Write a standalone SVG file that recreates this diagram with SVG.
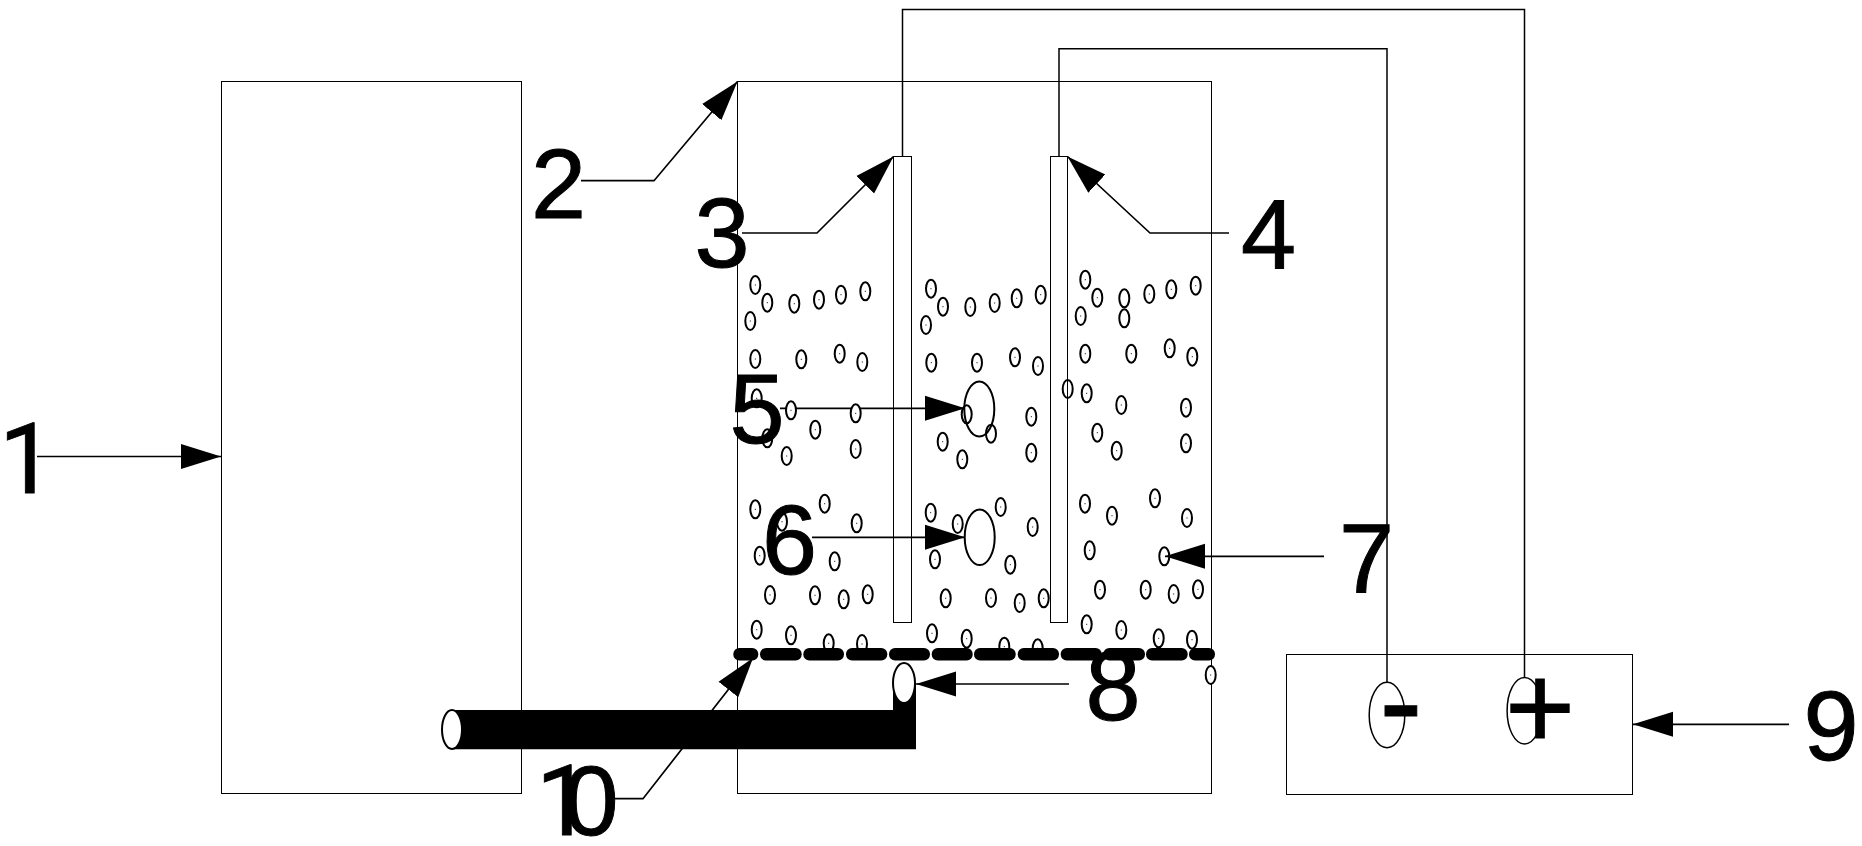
<svg xmlns="http://www.w3.org/2000/svg" xmlns:xlink="http://www.w3.org/1999/xlink" width="1862" height="846" viewBox="0 0 1862 846">
<style>
.ln{fill:none;stroke:#000;stroke-width:1.5}
.thick{fill:none;stroke:#000;stroke-width:2}
.shp{fill:none;stroke:#000;stroke-width:1.5;shape-rendering:crispEdges}
.wt{fill:#fff;stroke:#000;stroke-width:2}
.lead{fill:none;stroke:#000;stroke-width:1.7;marker-end:url(#head)}
.lbl{font-family:"Liberation Sans",Arial,sans-serif;font-size:99px;fill:#000;stroke:#000;stroke-width:1;text-anchor:middle}
.one{font-family:Roboto,"Liberation Sans",sans-serif;font-size:99px;fill:#000;stroke:#000;stroke-width:.8}
.sign{font-family:"Liberation Sans",Arial,sans-serif;fill:#000;stroke:#000;stroke-width:1;text-anchor:middle}
.b0{fill:none;stroke:#000;stroke-width:2}
.b1{fill:#fff;stroke:#000;stroke-width:2}
.seg{fill:#000}
</style>
<defs>
<marker id="head" markerUnits="userSpaceOnUse" markerWidth="42" markerHeight="28" refX="40" refY="13" orient="auto">
<path d="M0 0.5L40 13L0 25.5Z" fill="#000"/>
</marker>
<g id="bub"><ellipse rx="5" ry="9" class="b1"/><rect x="-0.5" y="-0.5" width="1" height="1" fill="#000"/></g>
<g id="bubo"><ellipse rx="5" ry="9" class="b0"/></g>
</defs>
<rect width="1862" height="846" fill="#fff"/>
<g id="connectors">
<path class="lead" d="M37 456.5H221"/>
<path class="lead" d="M581 180.7H654L737.5 81.5"/>
<path class="lead" d="M742 233H817L893.5 156.5"/>
<path class="lead" d="M1229 233H1150L1067.5 156.5"/>
<path class="lead" d="M780 408.3H965"/>
<path class="lead" d="M812 537.3H965"/>
<path class="lead" d="M1324 556.3H1165"/>
<path class="lead" d="M1069 684H916"/>
<path class="lead" d="M1789 724.3H1633"/>
<path class="lead" d="M615 798.7H643L753 658"/>
<path class="ln" d="M902.5 156V9.5H1524.5V677.5"/>
<path class="ln" d="M1059 156V48.7H1387V682"/>
</g>
<g id="node-1"><rect class="shp" x="221.5" y="81.5" width="300" height="712"/><text class="one" x="-1" y="493">1</text></g>
<g id="node-2"><rect class="shp" x="737.5" y="81.5" width="474" height="712"/><text class="lbl" x="558.5" y="218">2</text></g>
<g id="node-3"><rect class="shp" x="893.5" y="156.5" width="18" height="466"/><text class="lbl" x="722" y="267">3</text></g>
<g id="node-4"><rect class="shp" x="1050.5" y="156.5" width="17" height="466"/><text class="lbl" x="1268.5" y="268">4</text></g>
<g id="bubbles">
<use xlink:href="#bub" x="755.3" y="285"/><use xlink:href="#bub" x="767.3" y="302.7"/><use xlink:href="#bub" x="750.3" y="321"/><use xlink:href="#bub" x="794.3" y="303.7"/><use xlink:href="#bub" x="819" y="299.7"/><use xlink:href="#bub" x="841" y="294.7"/><use xlink:href="#bub" x="865.3" y="291.3"/>
<use xlink:href="#bub" x="931" y="288.7"/><use xlink:href="#bub" x="943" y="306.7"/><use xlink:href="#bub" x="926" y="325"/><use xlink:href="#bub" x="970.3" y="307"/><use xlink:href="#bub" x="994.7" y="303"/><use xlink:href="#bub" x="1016.7" y="298.3"/><use xlink:href="#bub" x="1040.7" y="294.7"/>
<use xlink:href="#bub" x="1085.3" y="279.7"/><use xlink:href="#bub" x="1097.3" y="297.7"/><use xlink:href="#bub" x="1080.7" y="316"/><use xlink:href="#bubo" x="1124.3" y="298.3"/><use xlink:href="#bubo" x="1124.3" y="318.3"/><use xlink:href="#bub" x="1149.3" y="294"/><use xlink:href="#bub" x="1171.3" y="289.3"/><use xlink:href="#bub" x="1195.7" y="285.7"/>
<use xlink:href="#bub" x="755.3" y="359"/><use xlink:href="#bub" x="801.3" y="359.3"/><use xlink:href="#bub" x="839.7" y="353.7"/><use xlink:href="#bub" x="862.3" y="362"/><use xlink:href="#bub" x="931.3" y="362.7"/><use xlink:href="#bub" x="977" y="362.7"/><use xlink:href="#bub" x="1015" y="357.3"/><use xlink:href="#bub" x="1038" y="366"/><use xlink:href="#bub" x="1085.3" y="353.7"/><use xlink:href="#bub" x="1131.3" y="353.7"/><use xlink:href="#bub" x="1169.7" y="348.3"/><use xlink:href="#bub" x="1192.3" y="356.7"/>
<use xlink:href="#bubo" x="1067.7" y="389"/><use xlink:href="#bub" x="1086.7" y="393.3"/><use xlink:href="#bub" x="756.7" y="398.3"/><use xlink:href="#bub" x="791" y="410.3"/><use xlink:href="#bub" x="855.7" y="413.3"/><use xlink:href="#bub" x="815.3" y="429.7"/><use xlink:href="#bub" x="767.3" y="438.3"/><use xlink:href="#bub" x="786.7" y="456"/><use xlink:href="#bub" x="855.7" y="449"/><use xlink:href="#bubo" x="966.7" y="414.3"/><use xlink:href="#bubo" x="991" y="433.7"/><use xlink:href="#bub" x="1031.3" y="416.7"/><use xlink:href="#bub" x="942.7" y="441.7"/><use xlink:href="#bub" x="962.3" y="459.3"/><use xlink:href="#bub" x="1031.3" y="452.7"/><use xlink:href="#bub" x="1121.3" y="405"/><use xlink:href="#bub" x="1186" y="407.7"/><use xlink:href="#bub" x="1097.3" y="432.7"/><use xlink:href="#bub" x="1116.7" y="450.7"/><use xlink:href="#bub" x="1186" y="443.3"/>
<use xlink:href="#bub" x="755.3" y="509.3"/><use xlink:href="#bub" x="824.7" y="503.7"/><use xlink:href="#bub" x="782" y="521.7"/><use xlink:href="#bub" x="856.7" y="523.3"/><use xlink:href="#bub" x="759.7" y="555.7"/><use xlink:href="#bub" x="834.7" y="561.3"/><use xlink:href="#bub" x="770" y="595"/><use xlink:href="#bub" x="815" y="595.3"/><use xlink:href="#bub" x="843.7" y="599.3"/><use xlink:href="#bub" x="867.7" y="594.3"/><use xlink:href="#bub" x="756.7" y="629.7"/><use xlink:href="#bub" x="791" y="635.3"/><use xlink:href="#bub" x="828.7" y="643.3"/><use xlink:href="#bub" x="862" y="644"/>
<use xlink:href="#bub" x="930.7" y="512.7"/><use xlink:href="#bub" x="957.7" y="524"/><use xlink:href="#bub" x="1000.7" y="507"/><use xlink:href="#bub" x="1032.7" y="527"/><use xlink:href="#bub" x="935" y="559.3"/><use xlink:href="#bub" x="1010.3" y="564.7"/><use xlink:href="#bub" x="945.7" y="598.3"/><use xlink:href="#bub" x="991" y="598"/><use xlink:href="#bub" x="1019.7" y="603"/><use xlink:href="#bub" x="1043.7" y="598.3"/><use xlink:href="#bub" x="932" y="633.3"/><use xlink:href="#bub" x="966.7" y="638.7"/><use xlink:href="#bub" x="1004.3" y="646.7"/><use xlink:href="#bub" x="1037.7" y="648.3"/>
<use xlink:href="#bub" x="1085" y="503.7"/><use xlink:href="#bub" x="1112" y="515.7"/><use xlink:href="#bub" x="1155" y="498.3"/><use xlink:href="#bub" x="1187" y="518"/><use xlink:href="#bub" x="1089.7" y="550.3"/><use xlink:href="#bub" x="1100" y="589.7"/><use xlink:href="#bub" x="1145.7" y="589.7"/><use xlink:href="#bub" x="1173.7" y="594"/><use xlink:href="#bub" x="1198" y="589.3"/><use xlink:href="#bub" x="1086.7" y="624.3"/><use xlink:href="#bub" x="1121.3" y="630"/><use xlink:href="#bub" x="1158.7" y="638.3"/><use xlink:href="#bub" x="1192" y="639.7"/><use xlink:href="#bub" x="1210.7" y="675"/>
</g>
<g id="node-5"><ellipse class="thick" cx="979.3" cy="409" rx="15" ry="27.5"/><text class="lbl" x="757" y="443">5</text></g>
<g id="node-6"><ellipse class="thick" cx="979.7" cy="537.2" rx="15" ry="27.8"/><text class="lbl" x="789.5" y="574">6</text></g>
<g id="node-7"><use xlink:href="#bubo" x="1164.3" y="556.3"/><text class="lbl" x="1366.5" y="592">7</text></g>
<g id="node-8"><g id="membrane">
<rect class="seg" x="733.3" y="648" width="25" height="12.6" rx="6"/><rect class="seg" x="760" y="648" width="41.7" height="12.6" rx="6"/><rect class="seg" x="803.3" y="648" width="40.7" height="12.6" rx="6"/><rect class="seg" x="846" y="648" width="41.3" height="12.6" rx="6"/><rect class="seg" x="889" y="648" width="41" height="12.6" rx="6"/><rect class="seg" x="931.7" y="648" width="41" height="12.6" rx="6"/><rect class="seg" x="974" y="648" width="41.7" height="12.6" rx="6"/><rect class="seg" x="1017.7" y="648" width="41.3" height="12.6" rx="6"/><rect class="seg" x="1060.7" y="648" width="41" height="12.6" rx="6"/><rect class="seg" x="1103.3" y="648" width="41.7" height="12.6" rx="6"/><rect class="seg" x="1146" y="648" width="41.7" height="12.6" rx="6"/><rect class="seg" x="1189" y="648" width="26" height="12.6" rx="6"/>
</g><text class="lbl" x="1113" y="720">8</text></g>
<g id="node-10"><path d="M452 710H893V683H916V749.3H452Z" fill="#000"/><ellipse class="wt" cx="452" cy="729.5" rx="10" ry="19.5"/><ellipse class="wt" cx="904" cy="683" rx="11" ry="20"/>
<text class="one" x="536" y="835">1</text><text class="lbl" x="591" y="835">0</text></g>
<g id="node-9"><rect class="shp" x="1286.5" y="654.5" width="346" height="140"/>
<ellipse class="ln" cx="1387" cy="715" rx="17.8" ry="32.7"/><ellipse class="ln" cx="1524.5" cy="710.7" rx="17.4" ry="33.3"/>
<text class="sign" x="1401" y="745" font-size="130">-</text><text class="sign" x="1540" y="749" font-size="120">+</text>
<text class="lbl" x="1831" y="760">9</text></g>
</svg>
